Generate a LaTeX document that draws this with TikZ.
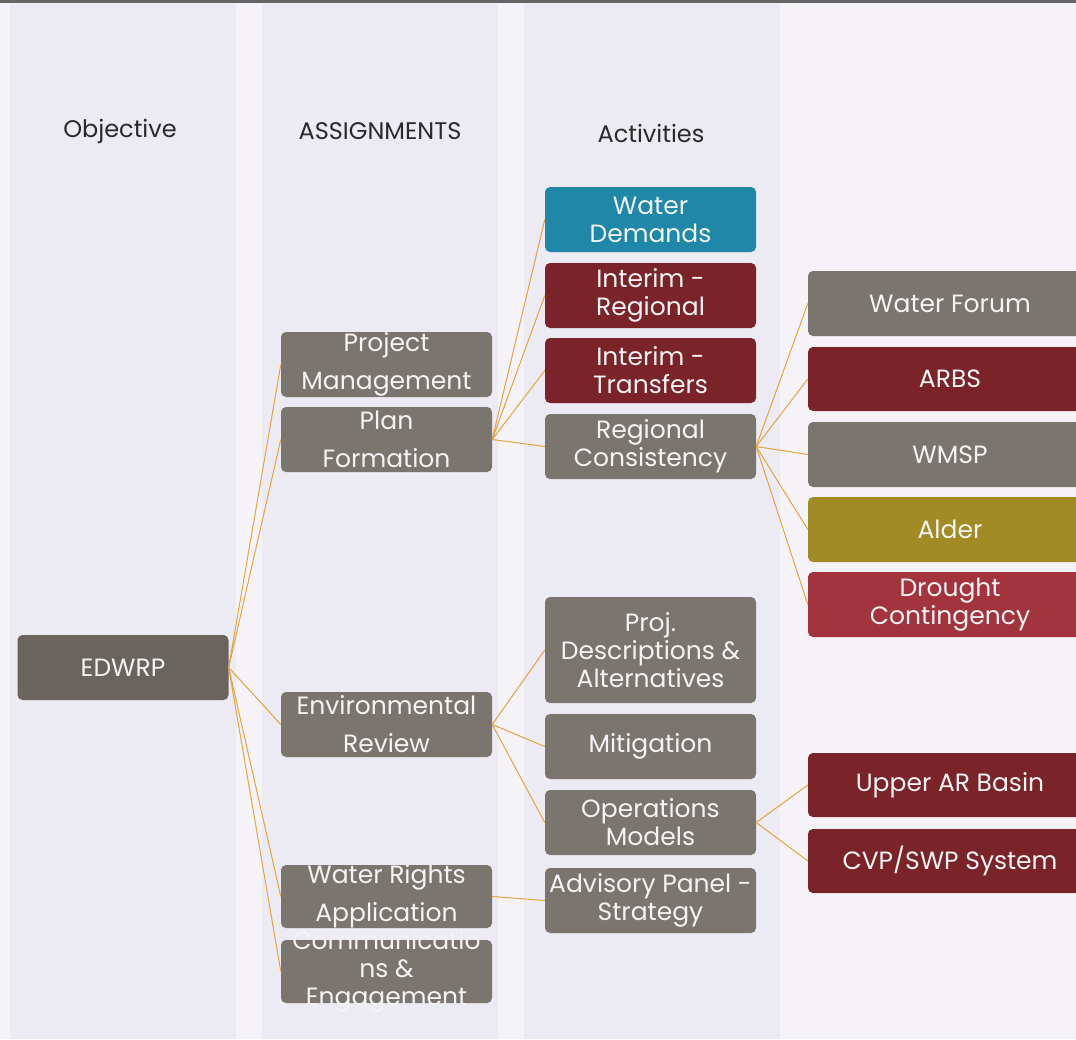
\documentclass[tikz,border=0pt]{standalone}
\usepackage{fontspec}
\setmainfont{Poppins}
\definecolor{bgA}{HTML}{F5F3F8}
\definecolor{bgB}{HTML}{ECEAF2}
\definecolor{topline}{HTML}{666666}
\definecolor{gbox}{HTML}{7B756F}
\definecolor{gdark}{HTML}{6A645F}
\definecolor{bbox}{HTML}{1F87A7}
\definecolor{rbox}{HTML}{7A2329}
\definecolor{rlight}{HTML}{A3333D}
\definecolor{obox}{HTML}{A08B24}
\definecolor{conn}{HTML}{E3A53C}
\definecolor{txt}{HTML}{F4F4F4}
\definecolor{hdr}{HTML}{2A2A2A}
\tikzset{
  boxbase/.style={rectangle, rounded corners=5pt, inner sep=0pt, minimum width=211pt, minimum height=65pt},
  wide/.style={minimum width=284pt},
  btext/.style={inner sep=0pt, text=txt, align=center, font=\fontsize{25}{28}\selectfont},
  atext/.style={inner sep=0pt, text=txt, align=center, font=\fontsize{25}{38}\selectfont},
  hdrtext/.style={inner sep=0pt, text=hdr, font=\fontsize{24}{28}\selectfont},
  link/.style={draw=conn, line width=1pt}
}
\newcommand\mkbox[6]{% name, center, height, fill, text style, text
  \node[boxbase, fill=#4, minimum height=#3pt] (#1) at (#2) {};
  \node[#5] (#1-t) at (#1.center) {#6};}
\newcommand\mkwide[6]{%
  \node[boxbase, wide, fill=#4, minimum height=#3pt] (#1) at (#2) {};
  \node[#5] (#1-t) at (#1.center) {#6};}
\begin{document}
\begin{tikzpicture}[x=1pt,y=-1pt]
\useasboundingbox (0,0) rectangle (1076,1039);
\begin{scope}
\clip (0,0) rectangle (1076,1039);
% background
\fill[bgA] (0,0) rectangle (1076,1039);
\fill[bgB] (10,0) rectangle (236,1039);
\fill[bgB] (262,0) rectangle (498,1039);
\fill[bgB] (524,0) rectangle (780,1039);
\fill[topline] (0,0) rectangle (1076,3);
% headers
\node[hdrtext] (h1) at (120,131) {Objective};
\node[hdrtext] (h2) at (380,131) {ASSIGNMENTS};
\node[hdrtext] (h3) at (651,133) {Activities};
% objective
\mkbox{edwrp}{123,667.5}{65}{gdark}{btext}{EDWRP}
% assignments
\mkbox{pm}{386.5,364.5}{65}{gbox}{atext}{Project\\Management}
\mkbox{pf}{386.5,439.5}{65}{gbox}{atext}{Plan\\Formation}
\mkbox{er}{386.5,724.5}{65}{gbox}{atext}{Environmental\\Review}
\mkbox{wr}{386.5,896.5}{63}{gbox}{atext}{Water Rights\\Application}
\mkbox{ce}{386.5,971.5}{63}{gbox}{btext}{Communicatio\\ns \&\\Engagement}
% activities
\mkbox{wd}{650.5,219.5}{65}{bbox}{btext}{Water\\Demands}
\mkbox{ir}{650.5,295.5}{65}{rbox}{btext}{Interim -\\Regional}
\mkbox{it}{650.5,370.5}{65}{rbox}{btext}{Interim -\\Transfers}
\mkbox{rc}{650.5,446.5}{65}{gbox}{btext}{Regional\\Consistency}
\mkbox{pd}{650.5,650}{106}{gbox}{btext}{Proj.\\Descriptions \&\\Alternatives}
\mkbox{mi}{650.5,746.5}{65}{gbox}{btext}{Mitigation}
\mkbox{om}{650.5,822.5}{65}{gbox}{btext}{Operations\\Models}
\mkbox{ap}{650.5,900.5}{65}{gbox}{btext}{Advisory Panel -\\Strategy}
% sub-activities
\mkwide{wf}{950,303.5}{65}{gbox}{btext}{Water Forum}
\mkwide{arbs}{950,379}{64}{rbox}{btext}{ARBS}
\mkwide{wmsp}{950,454.5}{65}{gbox}{btext}{WMSP}
\mkwide{alder}{950,529.5}{65}{obox}{btext}{Alder}
\mkwide{dc}{950,604.5}{65}{rlight}{btext}{Drought\\Contingency}
\mkwide{ua}{950,785}{64}{rbox}{btext}{Upper AR Basin}
\mkwide{cvp}{950,861}{64}{rbox}{btext}{CVP/SWP System}
% connectors
\foreach \t in {pm,pf,er,wr,ce} \draw[link] (edwrp.east) -- (\t.west);
\foreach \t in {wd,ir,it,rc} \draw[link] (pf.east) -- (\t.west);
\foreach \t in {wf,arbs,wmsp,alder,dc} \draw[link] (rc.east) -- (\t.west);
\foreach \t in {pd,mi,om} \draw[link] (er.east) -- (\t.west);
\foreach \t in {ua,cvp} \draw[link] (om.east) -- (\t.west);
\draw[link] (wr.east) -- (ap.west);
\end{scope}
\end{tikzpicture}
\end{document}
